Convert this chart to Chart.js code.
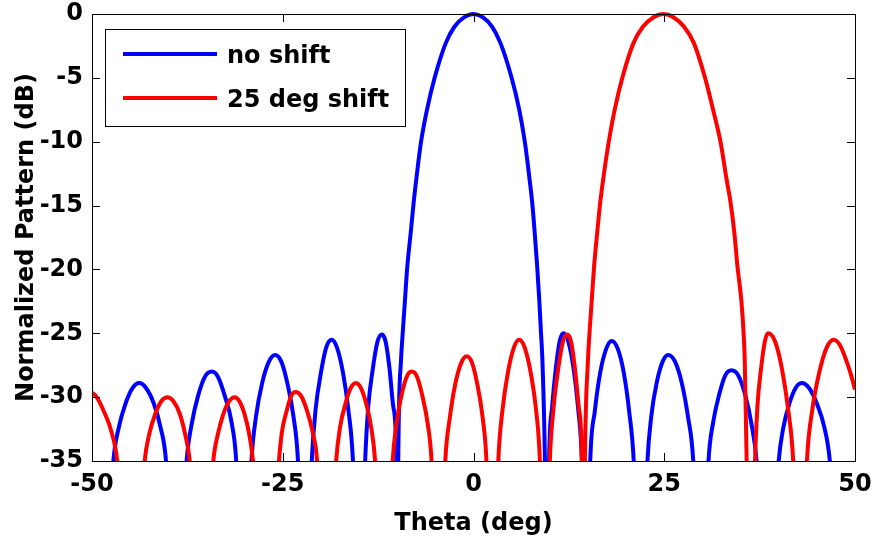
<!DOCTYPE html>
<html>
<head>
<meta charset="utf-8">
<script src="https://cdn.jsdelivr.net/npm/chart.js@4.4.1/dist/chart.umd.min.js"></script>
<style>
  html, body { margin: 0; padding: 0; background: #fff; }
  #wrap { width: 874px; height: 546px; }
</style>
</head>
<body>
<div id="wrap"><canvas id="chart" width="874" height="546"></canvas></div>
<script>
// ticks
const xTicks = [-50, -25, 0, 25, 50];
const yTicks = [0, -5, -10, -15, -20, -25, -30, -35];
const seriesNames = ['no shift', '25 deg shift'];

// no shift pattern (values below -35 are hidden nulls)
const noShiftTheta = [
  -50, -48.7,
  -47.2, -46.5, -45.6, -44.7, -43.8, -42.9, -41.9, -41.0, -40.3, -38.95,
  -37.6, -36.9, -36.1, -35.2, -34.3, -33.5, -32.6, -31.7, -31.1, -30.1,
  -29.1, -28.5, -27.7, -26.8, -26.0, -25.2, -24.4, -23.6, -23.0, -22.1,
  -21.2, -20.7, -20.0, -19.3, -18.6, -17.9, -17.1, -16.4, -15.8, -15.0,
  -14.2, -13.8, -13.2, -12.6, -12.0, -11.5, -11.0, -10.5, -10.1, -9.98,
  -9.86, -9.5, -9.28, -8.98, -8.68, -8.24, -7.85, -7.45, -6.9, -6.1, -5.05, -3.65, -2.5, -1.2,
  0, 1.2, 2.45, 3.55, 4.95, 6.0, 6.75, 7.3, 7.7, 8.03, 8.35, 8.62, 8.85, 9.03, 9.36, 9.63,
  9.9, 10.3, 10.8, 11.3, 11.8, 12.4, 13.1, 13.7, 14.2, 14.75,
  15.3, 15.9, 16.6, 17.4, 18.1, 18.9, 19.7, 20.4, 21.0, 21.9,
  22.8, 23.3, 24.0, 24.8, 25.5, 26.4, 27.3, 28.1, 28.8, 29.8,
  30.8, 31.4, 32.2, 33.0, 33.8, 34.7, 35.6, 36.4, 37.1, 38.55,
  40.0, 40.6, 41.4, 42.2, 43.0, 44.0, 45.0, 46.0, 46.7, 48.3, 50
];
const noShiftDb = [
  -44, -50,
  -35, -32.4, -30.5, -29.3, -28.9, -29.3, -30.5, -32.4, -35, -50,
  -35, -32.0, -29.9, -28.4, -28.0, -28.4, -29.9, -32.0, -35, -50,
  -35, -31.5, -28.9, -27.2, -26.7, -27.2, -28.9, -31.5, -35, -50,
  -35, -31.0, -28.1, -26.1, -25.5, -26.1, -28.1, -31.0, -35, -50,
  -35, -30.8, -27.8, -25.7, -25.1, -25.7, -27.8, -30.8, -35, -50,
  -35, -27.1, -25.0, -22.4, -19.8, -17.2, -14.8, -12.7, -10.1, -7.5, -4.9, -2.3, -1.0, -0.25,
  0, -0.25, -1.0, -2.3, -4.9, -7.5, -10.1, -12.7, -14.8, -17.2, -19.8, -22.4, -25.0, -27.1, -35, -50,
  -35, -30.8, -27.7, -25.6, -25.0, -25.6, -27.7, -30.8, -35, -50,
  -35, -31.1, -28.1, -26.2, -25.6, -26.2, -28.1, -31.1, -35, -50,
  -35, -31.5, -28.9, -27.2, -26.7, -27.2, -28.9, -31.5, -35, -50,
  -35, -32.0, -29.8, -28.3, -27.9, -28.3, -29.8, -32.0, -35, -50,
  -35, -32.4, -30.5, -29.3, -28.9, -29.3, -30.5, -32.4, -35, -50, -44
];

// 25 deg shift pattern
const shiftTheta = [
  -50, -49.5, -48.45, -47.46, -46.7, -44.9,
  -43.1, -42.5, -41.7, -40.9, -40.1, -39.35, -38.5, -37.8, -37.2, -35.65,
  -34.1, -33.5, -32.8, -32.0, -31.3, -30.7, -30.0, -29.4, -28.9, -27.2,
  -25.5, -25.1, -24.5, -23.9, -23.3, -22.6, -21.8, -21.1, -20.5, -19.25,
  -18.0, -17.5, -16.8, -16.1, -15.4, -14.75, -14.05, -13.4, -12.9, -11.75,
  -10.6, -10.1, -9.45, -8.75, -8.1, -7.4, -6.7, -6.0, -5.5, -4.6,
  -3.7, -3.1, -2.4, -1.6, -0.9, -0.2, 0.5, 1.2, 1.7, 2.5,
  3.25, 3.8, 4.5, 5.3, 6.0, 6.7, 7.5, 8.2, 8.7, 9.35,
  10.0, 10.5, 11.1, 11.7, 12.3, 12.8, 13.3, 13.8, 14.2, 14.4,
  14.6, 15.0, 15.2, 15.5, 15.8, 16.2, 16.6, 17.05, 17.7, 18.5, 19.55, 20.95, 22.2, 23.6,
  24.9, 26.2, 27.6, 28.9, 30.3, 31.4, 32.4, 33.1, 33.7, 34.2, 34.6, 35.1, 35.4, 35.55, 35.8, 36.35,
  36.9, 37.2, 37.7, 38.2, 38.6, 39.5, 40.4, 41.2, 41.9, 42.8,
  43.7, 44.4, 45.3, 46.3, 47.2, 48.0, 48.9, 49.5, 50
];
const shiftDb = [
  -29.65, -29.9, -31.1, -32.7, -35, -50,
  -35, -32.9, -31.3, -30.3, -30.0, -30.3, -31.3, -32.9, -35, -50,
  -35, -32.9, -31.35, -30.3, -30.0, -30.3, -31.35, -32.9, -35, -50,
  -35, -32.7, -31.1, -29.9, -29.6, -29.9, -31.1, -32.7, -35, -50,
  -35, -32.4, -30.55, -29.3, -28.9, -29.3, -30.55, -32.4, -35, -50,
  -35, -32.1, -29.9, -28.4, -28.0, -28.4, -29.9, -32.1, -35, -50,
  -35, -31.6, -29.0, -27.3, -26.8, -27.3, -29.0, -31.6, -35, -50,
  -35, -31.0, -28.1, -26.1, -25.5, -26.1, -28.1, -31.0, -35, -50,
  -35, -30.8, -27.8, -25.7, -25.1, -25.7, -27.8, -30.8, -35, -50,
  -35, -27.1, -25.0, -22.4, -19.8, -17.2, -14.8, -12.7, -10.1, -7.5, -4.9, -2.3, -1.0, -0.25,
  0, -0.25, -1.0, -2.3, -4.9, -7.5, -10.1, -12.7, -14.8, -17.2, -19.8, -22.4, -25.0, -27.1, -35, -50,
  -35, -30.8, -27.7, -25.6, -25.0, -25.6, -27.7, -30.8, -35, -50,
  -35, -31.0, -28.1, -26.1, -25.5, -25.9, -27.2, -28.3, -29.4
];

const FONT = 'DejaVu Sans';
const fontSize = 24;

function toPoints(xs, ys) {
  return xs.map((x, i) => ({ x: x, y: ys[i] }));
}

// que las etiquetas de los extremos no empujen el area del grafico
function noEdgePadding(s) {
  s.paddingTop = 0;
  s.paddingBottom = 0;
  s.paddingLeft = 0;
  s.paddingRight = 0;
}

// caja de ejes, marcas hacia adentro y leyenda dibujada dentro del area
const framePlugin = {
  id: 'frame',
  afterDatasetsDraw(chart) {
    const ctx = chart.ctx;
    const a = chart.chartArea;
    const xs = chart.scales.x;
    const ys = chart.scales.y;
    const tick = 8;
    ctx.save();
    ctx.strokeStyle = '#000';
    ctx.lineWidth = 1;
    ctx.beginPath();
    xTicks.forEach(v => {
      const px = Math.round(xs.getPixelForValue(v)) + 0.5;
      ctx.moveTo(px, a.bottom); ctx.lineTo(px, a.bottom - tick);
      ctx.moveTo(px, a.top); ctx.lineTo(px, a.top + tick);
    });
    yTicks.forEach(v => {
      const py = Math.round(ys.getPixelForValue(v)) + 0.5;
      ctx.moveTo(a.left, py); ctx.lineTo(a.left + tick, py);
      ctx.moveTo(a.right, py); ctx.lineTo(a.right - tick, py);
    });
    ctx.stroke();
    ctx.strokeRect(Math.round(a.left) + 0.5, Math.round(a.top) + 0.5,
      Math.round(a.right - a.left), Math.round(a.bottom - a.top));

    // leyenda
    const lx = 105, ly = 29, lw = 300, lh = 97;
    ctx.fillStyle = '#fff';
    ctx.fillRect(lx, ly, lw, lh);
    ctx.strokeRect(lx + 0.5, ly + 0.5, lw, lh);
    const rows = [54, 98];
    ctx.font = 'bold ' + fontSize + 'px "' + FONT + '"';
    ctx.textBaseline = 'middle';
    ctx.textAlign = 'left';
    chart.data.datasets.forEach((ds, i) => {
      ctx.strokeStyle = ds.borderColor;
      ctx.lineWidth = 4;
      ctx.beginPath();
      ctx.moveTo(123, rows[i]);
      ctx.lineTo(217, rows[i]);
      ctx.stroke();
      ctx.fillStyle = '#000';
      ctx.fillText(ds.label, 227, rows[i] + 3);
    });
    ctx.restore();
  }
};

const ctx = document.getElementById('chart').getContext('2d');

new Chart(ctx, {
  type: 'line',
  data: {
    datasets: [{
      label: seriesNames[0],
      data: toPoints(noShiftTheta, noShiftDb),
      borderColor: '#0000ff',
      borderWidth: 4,
      order: 2
    }, {
      label: seriesNames[1],
      data: toPoints(shiftTheta, shiftDb),
      borderColor: '#ff0000',
      borderWidth: 4,
      order: 1
    }]
  },
  options: {
    responsive: false,
    animation: false,
    layout: { padding: { left: 0, right: 19, top: 14, bottom: 0 } },
    elements: {
      point: { radius: 0 },
      line: { cubicInterpolationMode: 'monotone', fill: false, borderJoinStyle: 'round' }
    },
    datasets: { line: { clip: { left: 0, right: 0, bottom: 0, top: 3 } } },
    plugins: {
      legend: { display: false },
      tooltip: { enabled: false }
    },
    scales: {
      x: {
        type: 'linear',
        min: -50,
        max: 50,
        afterBuildTicks: s => { s.ticks = xTicks.map(v => ({ value: v })); },
        afterFit: s => { s.height = 85; noEdgePadding(s); },
        grid: { display: false, drawTicks: false },
        border: { display: false },
        ticks: { padding: 9, color: '#000', maxRotation: 0, font: { family: FONT, size: fontSize, weight: 'bold' } },
        title: { display: true, text: 'Theta (deg)', color: '#000', padding: { top: 0, bottom: 8 }, font: { family: FONT, size: fontSize, weight: 'bold' } }
      },
      y: {
        type: 'linear',
        min: -35,
        max: 0,
        afterBuildTicks: s => { s.ticks = yTicks.map(v => ({ value: v })); },
        afterFit: s => { s.width = 92; noEdgePadding(s); },
        grid: { display: false, drawTicks: false },
        border: { display: false },
        ticks: { padding: 9, color: '#000', font: { family: FONT, size: fontSize, weight: 'bold' } },
        title: { display: true, text: 'Normalized Pattern (dB)', color: '#000', padding: { top: 12, bottom: 0 }, font: { family: FONT, size: fontSize, weight: 'bold' } }
      }
    }
  },
  plugins: [framePlugin]
});
</script>
</body>
</html>
